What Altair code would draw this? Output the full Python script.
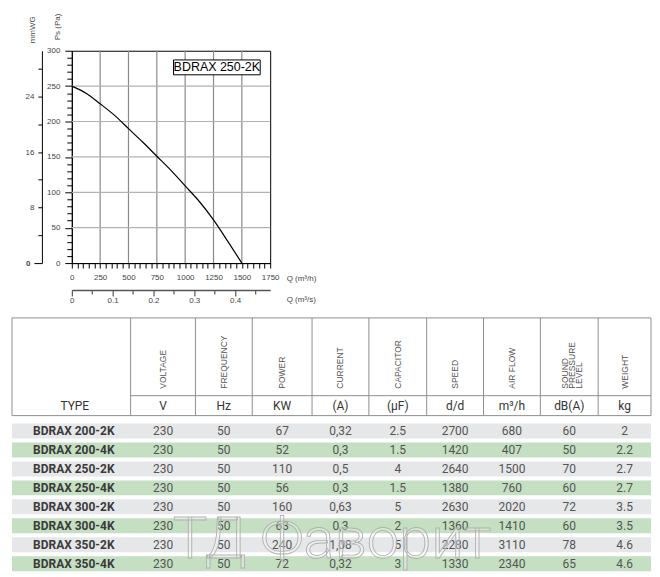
import altair as alt
import pandas as pd

# ---------------- fan curve ----------------
q_m3h = [0, 125, 250, 375, 500, 625, 750, 875, 1000, 1125, 1250, 1375, 1500]
ps_pa = [250, 240, 225, 209, 190, 171, 151, 131, 109, 87, 61, 31, 0]

grid_q = [250, 500, 750, 1000, 1250, 1500]
grid_pa = [50, 100, 150, 200, 250]

q_ticks = list(range(0, 1751, 50))
pa_ticks = list(range(0, 301, 10))
qs_ticks = [round(0.05 * k, 2) for k in range(10)]
mmwg_ticks = list(range(0, 29, 4))

model_label = ["BDRAX 250-2K"]

# ---------------- table ----------------
types = ["BDRAX 200-2K", "BDRAX 200-4K", "BDRAX 250-2K", "BDRAX 250-4K",
         "BDRAX 300-2K", "BDRAX 300-4K", "BDRAX 350-2K", "BDRAX 350-4K"]
voltage = ["230", "230", "230", "230", "230", "230", "230", "230"]
frequency = ["50", "50", "50", "50", "50", "50", "50", "50"]
power = ["67", "52", "110", "56", "160", "63", "240", "72"]
current = ["0,32", "0,3", "0,5", "0,3", "0,63", "0,3", "1,08", "0,32"]
capacitor = ["2.5", "1.5", "4", "1.5", "5", "2", "5", "3"]
speed = ["2700", "1420", "2640", "1380", "2630", "1360", "2280", "1330"]
airflow = ["680", "407", "1500", "760", "2020", "1410", "3110", "2340"]
spl = ["60", "50", "70", "60", "72", "60", "78", "65"]
weight = ["2", "2.2", "2.7", "2.7", "3.5", "3.5", "4.6", "4.6"]
headers = ["VOLTAGE", "FREQUENCY", "POWER", "CURRENT", "CAPACITOR", "SPEED",
           "AIR FLOW", "SOUND\nPRESSURE\nLEVEL", "WEIGHT"]
units = ["V", "Hz", "KW", "(A)", "(µF)", "d/d", "m³/h", "dB(A)", "kg"]
watermark = ["ТД Фаворит"]

# ---------------- layout constants ----------------
FONT = "Liberation Sans"
TFONT = "Roboto"
Q_MAX, PA_MAX = 1750, 300
PA_PER_MMWG = 9.80665
BOX_Q = (897, 1662)
BOX_PA = (266, 287)

# ---------------- plot ----------------
def xq():
    return alt.Scale(domain=[0, Q_MAX], nice=False, zero=False)

def ypa():
    return alt.Scale(domain=[0, PA_MAX], nice=False, zero=False)

lbl = dict(labelFont=FONT, labelFontSize=8, labelColor="#444", labelOverlap=False,
           labelFlush=False, labelBound=False, grid=False,
           titleFont=FONT, titleFontSize=8, titleFontWeight="normal", titleColor="#444")

ax_q = alt.Axis(values=q_ticks, orient="bottom", format="d",
                labelExpr="datum.value % 250 == 0 ? datum.label : ''",
                tickSize=5, tickColor="black", domainColor="black", labelPadding=5,
                title="Q (m³/h)", titleX=215, titleY=15, titleAlign="left",
                titleBaseline="middle", titleAngle=0, **lbl)
ax_pa = alt.Axis(values=pa_ticks, orient="left", format="d",
                 labelExpr="datum.value % 50 == 0 ? datum.label : ''",
                 tickSize={"condition": {"test": "datum.value % 50 == 0", "value": 7}, "value": 5},
                 tickColor="black", domainColor="black", labelPadding=5,
                 title="Ps (Pa)", titleAngle=270, titleAlign="left", titleBaseline="middle",
                 titleX=-14, titleY=-11, **lbl)
ax_qs = alt.Axis(values=qs_ticks, orient="bottom", offset=27,
                 labelExpr="round(datum.value * 100) % 10 == 0 ? format(datum.value, '~g') : ''",
                 tickSize={"condition": {"test": "round(datum.value * 100) % 10 == 0", "value": 6}, "value": 4},
                 tickColor="#333", domainColor="#555", domainWidth=1.5, labelPadding=1,
                 title="Q (m³/s)", titleX=215, titleY=10, titleAlign="left",
                 titleBaseline="middle", titleAngle=0, **lbl)
ax_mm = alt.Axis(values=mmwg_ticks, orient="left", offset=30, format="d",
                 labelExpr="datum.value % 8 == 0 ? datum.label : ''",
                 tickSize={"condition": {"test": "datum.value == 0", "value": 8}, "value": 4},
                 labelFontWeight={"condition": {"test": "datum.value == 0", "value": "bold"}, "value": "normal"},
                 tickColor="black", domainColor="black", labelPadding=4,
                 title="mmWG", titleAngle=270, titleAlign="left", titleBaseline="middle",
                 titleX=-9, titleY=-8, **lbl)

gridv = alt.Chart(pd.DataFrame({"q": grid_q})).mark_rule(
    color="#8a8a8a", strokeWidth=1.2).encode(x=alt.X("q:Q", scale=xq(), axis=ax_q))
gridh = alt.Chart(pd.DataFrame({"pa": grid_pa})).mark_rule(
    color="#b2b2b2", strokeWidth=1.2).encode(y=alt.Y("pa:Q", scale=ypa(), axis=ax_pa))

box_df = pd.DataFrame({"q0": [BOX_Q[0]], "q1": [BOX_Q[1]], "p0": [BOX_PA[0]], "p1": [BOX_PA[1]],
                       "qc": [(BOX_Q[0] + BOX_Q[1]) / 2], "pc": [(BOX_PA[0] + BOX_PA[1]) / 2],
                       "label": model_label})
box = alt.Chart(box_df).mark_rect(fill="white", stroke="black", strokeWidth=1).encode(
    x=alt.X("q0:Q", scale=xq(), axis=None), x2="q1:Q",
    y=alt.Y("p0:Q", scale=ypa(), axis=None), y2="p1:Q")
box_text = alt.Chart(box_df).mark_text(font=FONT, fontSize=12.5, color="black").encode(
    x=alt.X("qc:Q", scale=xq(), axis=None), y=alt.Y("pc:Q", scale=ypa(), axis=None), text="label:N")

curve = alt.Chart(pd.DataFrame({"q": q_m3h, "pa": ps_pa})).transform_calculate(
    qs="datum.q / 3600", mm="datum.pa / 9.80665"
).mark_line(color="black", strokeWidth=1.2, interpolate="monotone").encode(
    x=alt.X("qs:Q", scale=alt.Scale(domain=[0, Q_MAX / 3600], nice=False, zero=False), axis=ax_qs),
    y=alt.Y("mm:Q", scale=alt.Scale(domain=[0, PA_MAX / PA_PER_MMWG], nice=False, zero=False), axis=ax_mm),
)

plot = alt.layer(gridv, gridh, box, box_text, curve).resolve_scale(
    x="independent", y="independent").properties(
    width=199, height=213, view=alt.ViewBackground(stroke="black", strokeWidth=1))

# ---------------- table ----------------
TABLE_SHIFT = 60          # the table starts this far left of the plot area
TW, TH = 641, 254
col_edges = [0, 119, 184, 241, 301, 358, 416, 473, 530, 588, 641]
centers = [(col_edges[i] + col_edges[i + 1]) / 2 for i in range(10)]
hdr_dx = [0, 0, 0, 0, 0, 0, 0, -4, 0]
HEAD_H, UNITS_Y = 98, 78
ROW_TOP0, ROW_PITCH, ROW_H = 106, 19, 15
TYPE_X = 62

tx = alt.Scale(domain=[TABLE_SHIFT, TW], nice=False, zero=False)
ty = alt.Scale(domain=[0, TH], nice=False, zero=False, reverse=True)

def X(f):
    return alt.X(f, scale=tx, axis=None)

def Y(f):
    return alt.Y(f, scale=ty, axis=None)

row_df = pd.DataFrame({
    "x0": [0] * len(types), "x1": [TW] * len(types),
    "y0": [ROW_TOP0 + i * ROW_PITCH for i in range(len(types))],
    "y1": [ROW_TOP0 + i * ROW_PITCH + ROW_H for i in range(len(types))],
    "shade": ["a" if i % 2 == 0 else "b" for i in range(len(types))],
})
rows_bg = alt.Chart(row_df).mark_rect().encode(
    x=X("x0:Q"), x2="x1:Q", y=Y("y0:Q"), y2="y1:Q",
    color=alt.Color("shade:N", scale=alt.Scale(domain=["a", "b"], range=["#e6e7e8", "#c4dfc1"]), legend=None))

head_df = pd.DataFrame({"x0": [0], "x1": [TW], "y0": [0], "y1": [HEAD_H]})
head_box = alt.Chart(head_df).mark_rect(fill="transparent", stroke="#8f8f8f", strokeWidth=1).encode(
    x=X("x0:Q"), x2="x1:Q", y=Y("y0:Q"), y2="y1:Q")

vl_df = pd.DataFrame({"x": col_edges[1:-1], "y0": [0] * 9, "y1": [HEAD_H] * 9})
head_vlines = alt.Chart(vl_df).mark_rule(color="#8f8f8f", strokeWidth=1).encode(
    x=X("x:Q"), y=Y("y0:Q"), y2="y1:Q")
ul_df = pd.DataFrame({"x0": [col_edges[1]], "x1": [TW], "y": [UNITS_Y]})
units_line = alt.Chart(ul_df).mark_rule(color="#8f8f8f", strokeWidth=1).encode(
    x=X("x0:Q"), x2="x1:Q", y=Y("y:Q"))

hdr_df = pd.DataFrame({"x": [c + d for c, d in zip(centers[1:], hdr_dx)], "y": [71] * 9, "text": headers})
hdr_text = alt.Chart(hdr_df).mark_text(
    angle=270, align="left", baseline="middle", lineBreak="\n", lineHeight=7,
    font=FONT, fontSize=8.5, color="#555").encode(x=X("x:Q"), y=Y("y:Q"), text="text:N")

un_df = pd.DataFrame({"x": [TYPE_X + 1] + centers[1:], "y": [88] * 10, "text": ["TYPE"] + units})
un_text = alt.Chart(un_df).mark_text(font=TFONT, fontSize=12, color="#333").encode(
    x=X("x:Q"), y=Y("y:Q"), text="text:N")

type_df = pd.DataFrame({"x": [TYPE_X] * len(types),
                        "y": [ROW_TOP0 + i * ROW_PITCH + ROW_H / 2 for i in range(len(types))],
                        "text": types})
type_text = alt.Chart(type_df).mark_text(font=TFONT, fontSize=12, fontWeight="bold", color="#3a3a3a").encode(
    x=X("x:Q"), y=Y("y:Q"), text="text:N")

value_cols = [voltage, frequency, power, current, capacitor, speed, airflow, spl, weight]
vals = []
for i in range(len(types)):
    for j, col in enumerate(value_cols):
        vals.append({"x": centers[j + 1], "y": ROW_TOP0 + i * ROW_PITCH + ROW_H / 2, "text": col[i]})
val_text = alt.Chart(pd.DataFrame(vals)).mark_text(font=TFONT, fontSize=12, color="#555").encode(
    x=X("x:Q"), y=Y("y:Q"), text="text:N")

wm_df = pd.DataFrame({"x": [321], "y": [224], "text": watermark})
wm_text = alt.Chart(wm_df).mark_text(
    font=TFONT, fontSize=58, fontWeight=300, baseline="middle", fill="#ffffff", fillOpacity=0.3,
    stroke="#b0b0b0", strokeWidth=0.9).encode(x=X("x:Q"), y=Y("y:Q"), text="text:N")

table = alt.layer(rows_bg, head_box, head_vlines, units_line, hdr_text, un_text,
                  type_text, val_text, wm_text).properties(
    width=TW - TABLE_SHIFT, height=TH, view=alt.ViewBackground(stroke="transparent"))

chart = alt.vconcat(plot, table, spacing=11).properties(
    padding={"left": 3, "top": 3, "right": 0, "bottom": 0}, background="white")

chart.save("out.html", embed_options={"renderer": "svg", "actions": False})
